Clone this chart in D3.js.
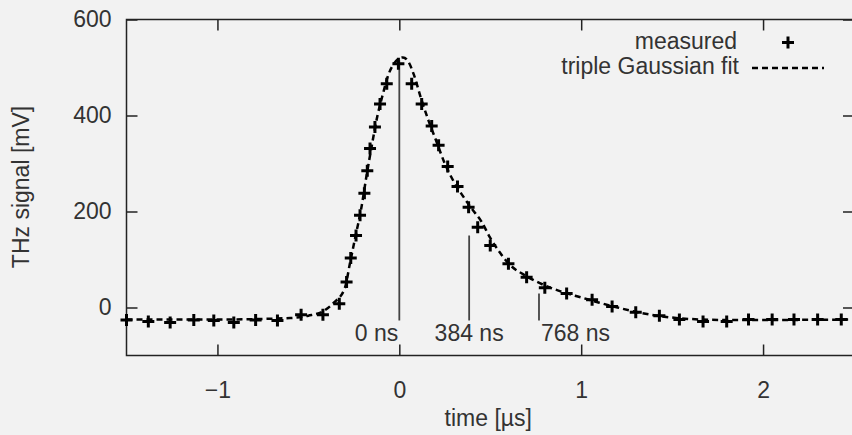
<!DOCTYPE html>
<html>
<head>
<meta charset="utf-8">
<script src="https://cdn.jsdelivr.net/npm/d3@7"></script>
<style>
  body { margin: 0; background: #f2f2f2; }
  svg { display: block; }
  text { font-family: "Liberation Sans", Arial, sans-serif; fill: #333; }
</style>
</head>
<body>
<svg id="chart"></svg>
<script>
// measured samples (time in µs, signal in mV)
var measTime = [-1.50, -1.38, -1.26, -1.13, -1.02, -0.91, -0.79, -0.67, -0.54, -0.42,
  -0.33, -0.29, -0.267, -0.238, -0.216, -0.192, -0.176, -0.161, -0.134, -0.106,
  -0.069, -0.005, 0.068, 0.123, 0.178, 0.216, 0.266, 0.320, 0.381, 0.431,
  0.50, 0.60, 0.70, 0.80, 0.92, 1.06, 1.17, 1.30, 1.43, 1.54,
  1.67, 1.80, 1.92, 2.05, 2.17, 2.30, 2.43];
var measValue = [-26, -29, -31, -26, -27, -31, -26, -27, -15, -15,
  8, 53, 103, 150, 192, 238, 285, 331, 376, 424,
  466, 508, 466, 424, 378, 338, 294, 252, 209, 167,
  129, 91, 63, 41, 29, 16, 2, -10, -17, -25,
  -29, -29, -25, -25, -25, -25, -25];

// triple Gaussian fit
var fitTime = [-1.5, -1.0, -0.6, -0.5, -0.42, -0.36, -0.3, -0.27, -0.24, -0.21, -0.18, -0.15,
  -0.12, -0.09, -0.06, -0.03, 0, 0.02, 0.05, 0.08, 0.12, 0.16, 0.2, 0.25, 0.3, 0.35,
  0.4, 0.45, 0.5, 0.55, 0.6, 0.7, 0.8, 0.9, 1.0, 1.1, 1.2, 1.3, 1.4, 1.5, 1.6, 1.8, 2.0, 2.5];
var fitValue = [-25, -25, -22, -17, -8, 10, 40, 95, 150, 205, 275, 340,
  400, 445, 485, 508, 519, 521, 512, 485, 435, 390, 350, 300, 262, 232,
  205, 180, 145, 116, 92, 65, 46, 32, 21, 10, 0, -9, -16, -21, -24, -26, -26, -25];

// delay markers
var markTime = [0, 0.384, 0.768];
var markTop = [515, 150, 29];
var markLabel = ["0 ns", "384 ns", "768 ns"];

var xTicks = [-1, 0, 1, 2];
var yTicks = [0, 200, 400, 600];

var W = 852, H = 435;
var pLeft = 126.5, pRight = 854, pTop = 19.5, pBottom = 355.5;

var svg = d3.select('#chart').attr('width', W).attr('height', H);

var x = d3.scaleLinear().domain([-1.5, 2.5]).range([pLeft, pRight]);
var y = d3.scaleLinear().domain([-100, 600]).range([pBottom, pTop]);

var fs = 23;
var fmt = d3.format('d');

// axes with inward ticks
var gx = svg.append('g').attr('transform', 'translate(0,' + pBottom + ')')
  .call(d3.axisBottom(x).tickValues(xTicks).tickFormat(fmt).tickSizeInner(-11).tickSizeOuter(0).tickPadding(26));
var gy = svg.append('g').attr('transform', 'translate(' + pLeft + ',0)')
  .call(d3.axisLeft(y).tickValues(yTicks).tickFormat(fmt).tickSizeInner(-11).tickSizeOuter(0).tickPadding(15));
var gxt = svg.append('g').attr('transform', 'translate(0,' + pTop + ')')
  .call(d3.axisTop(x).tickValues(xTicks).tickSizeInner(-11).tickSizeOuter(0).tickFormat(''));
var gyr = svg.append('g').attr('transform', 'translate(' + pRight + ',0)')
  .call(d3.axisRight(y).tickValues(yTicks).tickSizeInner(-11).tickSizeOuter(0).tickFormat(''));

[gx, gy, gxt, gyr].forEach(function(g){
  g.select('.domain').remove();
  g.selectAll('line').attr('stroke', '#222').attr('stroke-width', 1.5);
  g.selectAll('text').attr('font-size', fs).attr('fill', '#333')
    .style('font-family', '"Liberation Sans", Arial, sans-serif');
});

svg.append('rect')
  .attr('x', pLeft).attr('y', pTop)
  .attr('width', pRight - pLeft).attr('height', pBottom - pTop)
  .attr('fill', 'none').attr('stroke', '#222').attr('stroke-width', 1.5);

// axis titles
svg.append('text')
  .attr('x', (pLeft + pRight) / 2 - 2).attr('y', 426)
  .attr('text-anchor', 'middle').attr('font-size', fs)
  .text('time [µs]');

svg.append('text')
  .attr('transform', 'translate(29,187) rotate(-90)')
  .attr('text-anchor', 'middle').attr('font-size', fs)
  .text('THz signal [mV]');

// delay marker lines + labels
var marks = markTime.map(function(t, i){ return {t: t, top: markTop[i], label: markLabel[i]}; });
svg.selectAll('.mark')
  .data(marks)
  .enter()
  .append('line')
  .attr('class', 'mark')
  .attr('x1', function(d){ return x(d.t); })
  .attr('x2', function(d){ return x(d.t); })
  .attr('y1', function(d){ return y(d.top); })
  .attr('y2', y(-27))
  .attr('stroke', '#444')
  .attr('stroke-width', 1.8);

svg.selectAll('.marklabel')
  .data(marks)
  .enter()
  .append('text')
  .attr('class', 'marklabel')
  .attr('x', function(d, i){ return x(d.t) + [-1, 0, 2][i]; })
  .attr('y', 341)
  .attr('text-anchor', function(d, i){ return ['end', 'middle', 'start'][i]; })
  .attr('font-size', fs)
  .text(function(d){ return d.label; });

// fit curve
var fitData = fitTime.map(function(t, i){ return [t, fitValue[i]]; });
var line = d3.line()
  .x(function(d){ return x(d[0]); })
  .y(function(d){ return y(d[1]); })
  .curve(d3.curveMonotoneX);

svg.append('path')
  .datum(fitData)
  .attr('d', line)
  .attr('fill', 'none')
  .attr('stroke', '#000')
  .attr('stroke-width', 2.5)
  .attr('stroke-dasharray', '6,4');

// measured points as plus signs
var measData = measTime.map(function(t, i){ return [t, measValue[i]]; });
function drawPlus(g, px, py){
  g.append('path')
    .attr('d', 'M' + (px - 6) + ',' + py + 'H' + (px + 6) + 'M' + px + ',' + (py - 6) + 'V' + (py + 6))
    .attr('stroke', '#000')
    .attr('stroke-width', 3)
    .attr('fill', 'none');
}
var pts = svg.append('g');
measData.forEach(function(d){ drawPlus(pts, x(d[0]), y(d[1])); });

// legend
svg.append('text')
  .attr('x', 737).attr('y', 49)
  .attr('text-anchor', 'end').attr('font-size', fs)
  .text('measured');
svg.append('text')
  .attr('x', 739).attr('y', 74)
  .attr('text-anchor', 'end').attr('font-size', fs)
  .text('triple Gaussian fit');
drawPlus(svg, 788, 42.5);
svg.append('line')
  .attr('x1', 752).attr('x2', 824)
  .attr('y1', 68).attr('y2', 68)
  .attr('stroke', '#000').attr('stroke-width', 2.5)
  .attr('stroke-dasharray', '6,4');
</script>
</body>
</html>
